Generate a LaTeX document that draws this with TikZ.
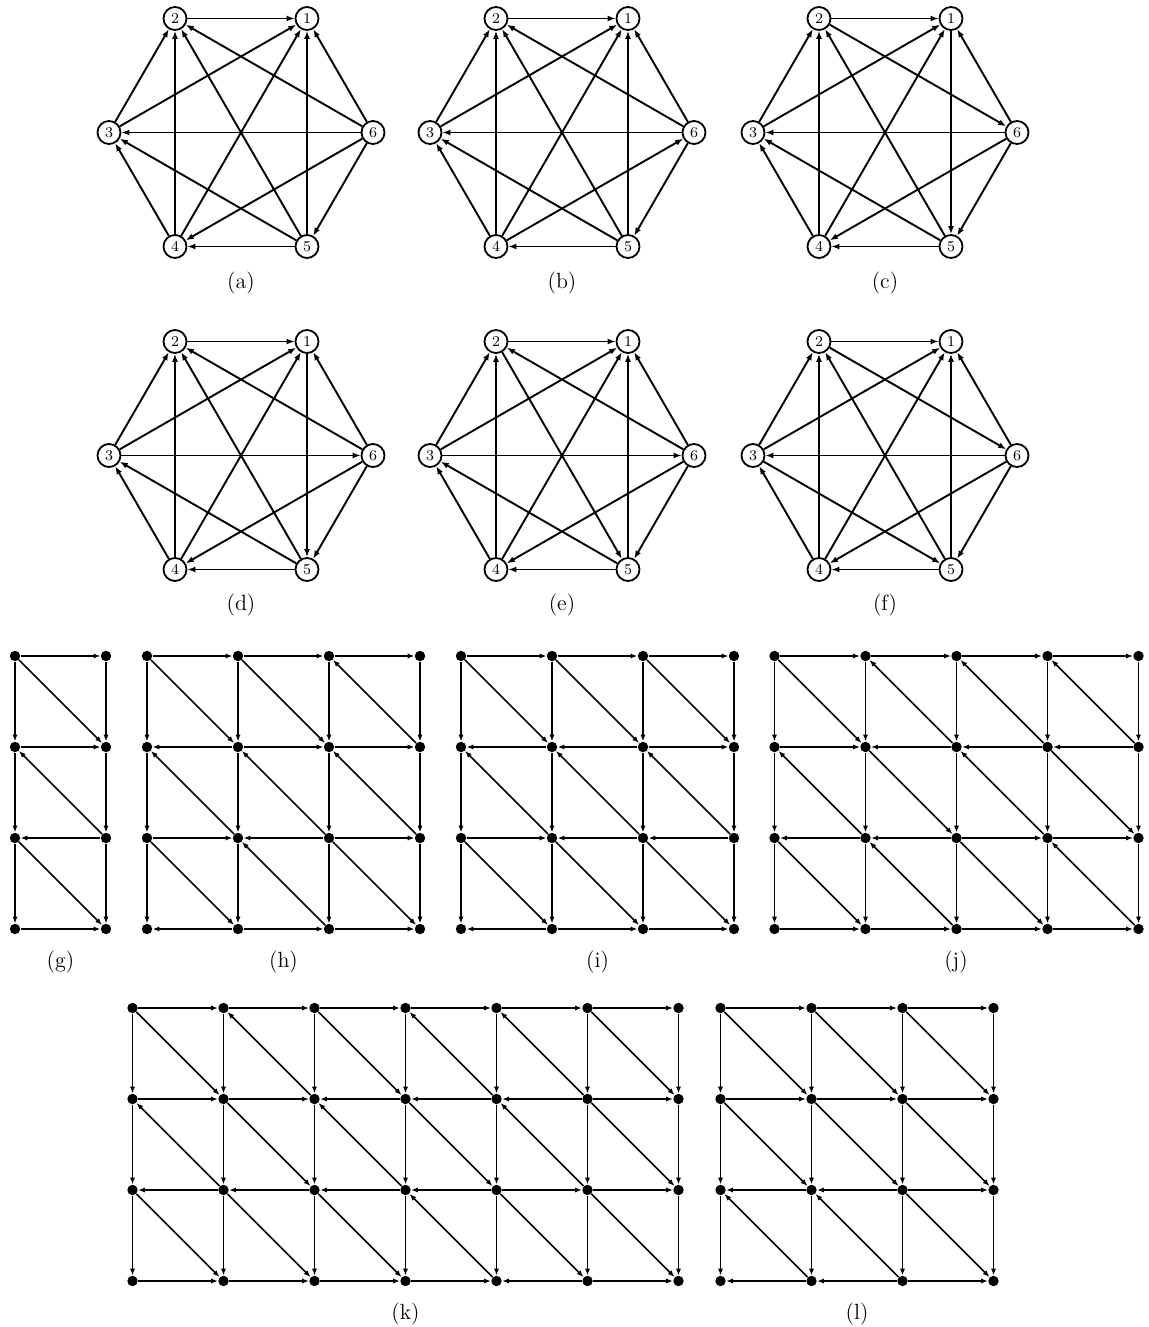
\documentclass[tikz,border=0pt]{standalone}
\usepackage{fontspec}
\usetikzlibrary{arrows.meta}
\tikzset{
  vtx/.style={circle, draw, line width=0.9pt, minimum size=11.5pt, inner sep=0pt, font=\fontsize{7.5}{8}\selectfont},
  harr/.style={-{Latex[length=4pt,width=3pt]}, line width=0.95pt},
  dot/.style={circle, fill, minimum size=5.2pt, inner sep=0pt},
  garr/.style={-{Latex[length=3.4pt,width=2.6pt]}, line width=0.75pt},
  sublabel/.style={font=\fontsize{11}{13}\selectfont, inner sep=0pt}
}
\newcommand\myHex[3]{%
  \node[vtx] (#1-1) at (#2+66,#3-114) {1};
  \node[vtx] (#1-2) at (#2-66,#3-114) {2};
  \node[vtx] (#1-3) at (#2-132,#3) {3};
  \node[vtx] (#1-4) at (#2-66,#3+114) {4};
  \node[vtx] (#1-5) at (#2+66,#3+114) {5};
  \node[vtx] (#1-6) at (#2+132,#3) {6};
}
\newcommand\myGrid[4]{%
  \foreach \ci in {1,...,#4}{\foreach \ri in {1,...,4}{%
    \node[dot] (#1-\ci-\ri) at ({#2+(\ci-1)*91},{#3+(\ri-1)*91}) {};}}
  \foreach \ci in {1,...,#4}{\foreach \ri in {1,2,3}{%
    \pgfmathtruncatemacro\rr{\ri+1}%
    \draw[garr] (#1-\ci-\ri) -- (#1-\ci-\rr);}}
}
\newcommand\myH[3]{\foreach \dv [count=\ci] in {#3}{%
  \pgfmathtruncatemacro\cc{\ci+1}%
  \ifnum\dv=1 \draw[garr] (#1-\ci-#2) -- (#1-\cc-#2);\else\draw[garr] (#1-\cc-#2) -- (#1-\ci-#2);\fi}}
\newcommand\myD[3]{\foreach \dv [count=\ci] in {#3}{%
  \pgfmathtruncatemacro\cc{\ci+1}\pgfmathtruncatemacro\rr{#2+1}%
  \ifnum\dv=1 \draw[garr] (#1-\ci-#2) -- (#1-\cc-\rr);\else\draw[garr] (#1-\cc-\rr) -- (#1-\ci-#2);\fi}}
\begin{document}
\begin{tikzpicture}[x=0.5pt,y=-0.5pt]
\useasboundingbox (0,0) rectangle (1148,1327);
% ---------- hexagons ----------
\myHex{a}{241}{132.5}
\myHex{b}{562}{132.5}
\myHex{c}{885}{132.5}
\myHex{d}{241}{455.5}
\myHex{e}{562}{455.5}
\myHex{f}{885}{455.5}
\foreach \s/\t in {2/1,3/2,3/1,4/2,4/1,4/3,5/2,5/1,5/3,5/4,6/2,6/1,6/3,6/4,6/5}
  \draw[harr] (a-\s) -- (a-\t);
\foreach \s/\t in {2/1,3/2,3/1,4/2,4/1,4/3,5/2,5/1,5/3,5/4,6/2,6/1,6/3,4/6,6/5}
  \draw[harr] (b-\s) -- (b-\t);
\foreach \s/\t in {2/1,3/2,3/1,4/2,4/1,4/3,5/2,1/5,5/3,5/4,2/6,6/1,6/3,6/4,6/5}
  \draw[harr] (c-\s) -- (c-\t);
\foreach \s/\t in {2/1,3/2,3/1,4/2,4/1,4/3,5/2,1/5,5/3,5/4,6/2,6/1,3/6,6/4,6/5}
  \draw[harr] (d-\s) -- (d-\t);
\foreach \s/\t in {2/1,3/2,3/1,4/2,4/1,4/3,2/5,5/1,5/3,5/4,6/2,6/1,3/6,6/4,6/5}
  \draw[harr] (e-\s) -- (e-\t);
\foreach \s/\t in {2/1,3/2,3/1,4/2,4/1,4/3,5/2,5/1,3/5,5/4,2/6,6/1,6/3,6/4,6/5}
  \draw[harr] (f-\s) -- (f-\t);
\node[sublabel] (la) at (241,283) {(a)};
\node[sublabel] (lb) at (562,283) {(b)};
\node[sublabel] (lc) at (885,283) {(c)};
\node[sublabel] (ld) at (241,605) {(d)};
\node[sublabel] (le) at (562,605) {(e)};
\node[sublabel] (lf) at (885,605) {(f)};
% ---------- grids ----------
% (g)
\myGrid{g}{15}{656}{2}
\myH{g}{1}{1}\myH{g}{2}{1}\myH{g}{3}{0}\myH{g}{4}{1}
\myD{g}{1}{1}\myD{g}{2}{0}\myD{g}{3}{1}
% (h)
\myGrid{h}{147}{656}{4}
\myH{h}{1}{1,1,1}\myH{h}{2}{0,1,1}\myH{h}{3}{1,0,1}\myH{h}{4}{0,1,1}
\myD{h}{1}{1,1,0}\myD{h}{2}{0,0,0}\myD{h}{3}{1,0,1}
% (i)
\myGrid{i}{461}{656}{4}
\myH{i}{1}{1,1,1}\myH{i}{2}{0,0,1}\myH{i}{3}{1,0,0}\myH{i}{4}{0,1,1}
\myD{i}{1}{1,1,1}\myD{i}{2}{0,0,0}\myD{i}{3}{1,1,1}
% (j)
\myGrid{j}{774.5}{656}{5}
\myH{j}{1}{1,1,1,1}\myH{j}{2}{1,0,0,0}\myH{j}{3}{0,0,1,1}\myH{j}{4}{1,1,1,1}
\myD{j}{1}{1,0,0,0}\myD{j}{2}{0,1,0,1}\myD{j}{3}{1,0,1,0}
% (k)
\myGrid{k}{132.5}{1008}{7}
\myH{k}{1}{1,1,1,1,1,1}\myH{k}{2}{1,1,0,0,0,1}\myH{k}{3}{0,0,0,0,1,1}\myH{k}{4}{1,1,1,1,0,1}
\myD{k}{1}{1,0,1,0,0,1}\myD{k}{2}{0,1,0,1,0,1}\myD{k}{3}{1,1,1,0,1,1}
% (l)
\myGrid{l}{720.5}{1008}{4}
\myH{l}{1}{1,1,1}\myH{l}{2}{1,1,1}\myH{l}{3}{0,0,1}\myH{l}{4}{0,0,1}
\myD{l}{1}{1,1,1}\myD{l}{2}{1,1,1}\myD{l}{3}{0,0,1}
\node[sublabel] (lg) at (60.5,962) {(g)};
\node[sublabel] (lh) at (283.5,962) {(h)};
\node[sublabel] (li) at (597.5,962) {(i)};
\node[sublabel] (lj) at (956,962) {(j)};
\node[sublabel] (lk) at (405.5,1314) {(k)};
\node[sublabel] (ll) at (857,1314) {(l)};
\end{tikzpicture}
\end{document}
